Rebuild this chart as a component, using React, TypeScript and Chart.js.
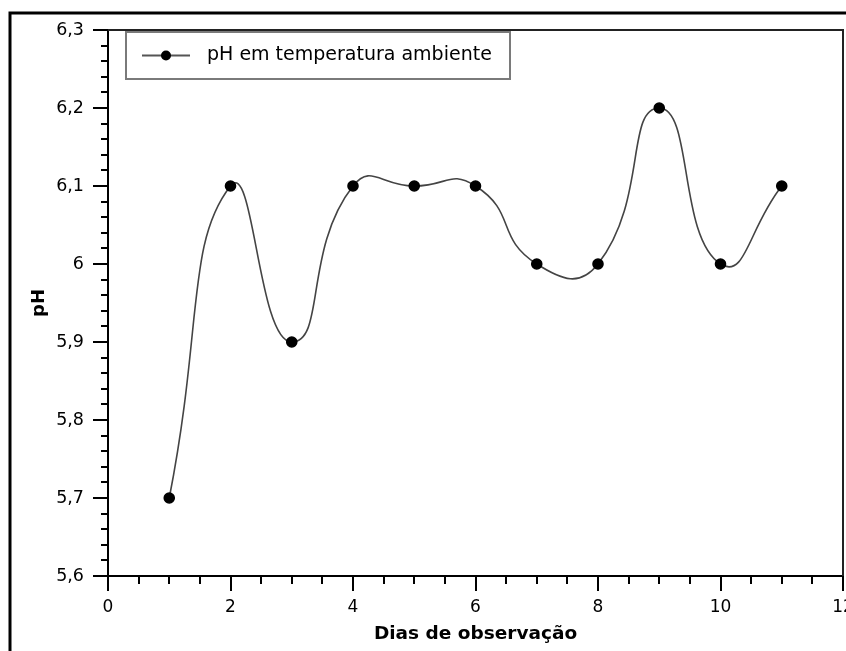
import React, { useEffect, useRef } from "react";
import { Chart, registerables } from "chart.js";

Chart.register(...registerables);

const days = [1, 2, 3, 4, 5, 6, 7, 8, 9, 10, 11];
const phValues = [5.7, 6.1, 5.9, 6.1, 6.1, 6.1, 6.0, 6.0, 6.2, 6.0, 6.1];
const seriesLabel = "pH em temperatura ambiente";
const xTitle = "Dias de observação";
const yTitle = "pH";
const xRange = [0, 12];
const yRange = [5.6, 6.3];

const FONT = "'DejaVu Sans', Verdana, sans-serif";

const fmtY = (v: number) => {
  const r = Math.round(v * 10) / 10;
  return String(r).replace(".", ",");
};

const decorPlugin = {
  id: "decor",
  beforeDraw(chart: any) {
    const ctx = chart.ctx;
    ctx.save();
    ctx.fillStyle = "#ffffff";
    ctx.fillRect(0, 0, chart.width, chart.height);
    ctx.strokeStyle = "#000";
    ctx.lineWidth = 3;
    ctx.beginPath();
    ctx.moveTo(10, chart.height + 5);
    ctx.lineTo(10, 13);
    ctx.lineTo(chart.width + 5, 13);
    ctx.stroke();
    ctx.restore();
  },
  afterDraw(chart: any) {
    const ctx = chart.ctx;
    const area = chart.chartArea;
    const xs = chart.scales.x;
    const ys = chart.scales.y;
    ctx.save();
    ctx.strokeStyle = "#222";
    ctx.lineWidth = 2;
    ctx.beginPath();
    ctx.moveTo(area.left, area.top);
    ctx.lineTo(area.right, area.top);
    ctx.lineTo(area.right, area.bottom);
    ctx.stroke();
    ctx.strokeStyle = "#000";
    ctx.lineWidth = 2;
    ctx.beginPath();
    for (let i = 0; i <= 35; i++) {
      if (i % 5 === 0) continue;
      const v = yRange[0] + i * 0.02;
      const py = Math.round(ys.getPixelForValue(v));
      ctx.moveTo(area.left, py);
      ctx.lineTo(area.left - 7, py);
    }
    for (let i = 0; i <= 24; i++) {
      if (i % 4 === 0) continue;
      const v = xRange[0] + i * 0.5;
      const px = Math.round(xs.getPixelForValue(v));
      ctx.moveTo(px, area.bottom);
      ctx.lineTo(px, area.bottom + 8);
    }
    ctx.stroke();
    const bx = 126, by = 32, bw = 384, bh = 47;
    ctx.fillStyle = "#fff";
    ctx.fillRect(bx, by, bw, bh);
    ctx.strokeStyle = "#7a7a7a";
    ctx.lineWidth = 2;
    ctx.strokeRect(bx, by, bw, bh);
    const ly = by + bh / 2;
    ctx.strokeStyle = "#555";
    ctx.lineWidth = 2;
    ctx.beginPath();
    ctx.moveTo(142, ly);
    ctx.lineTo(190, ly);
    ctx.stroke();
    ctx.fillStyle = "#000";
    ctx.beginPath();
    ctx.arc(166, ly, 5, 0, Math.PI * 2);
    ctx.fill();
    ctx.font = `19px ${FONT}`;
    ctx.textBaseline = "middle";
    ctx.textAlign = "left";
    ctx.fillStyle = "#000";
    ctx.fillText(seriesLabel, 207, ly);
    ctx.restore();
  },
};

export default function App() {
  const ref = useRef<HTMLCanvasElement>(null);
  useEffect(() => {
    document.body.style.margin = "0";
    const chart = new Chart(ref.current!, {
      type: "line",
      data: {
        labels: days,
        datasets: [
          {
            label: seriesLabel,
            data: days.map((d, i) => ({ x: d, y: phValues[i] })),
            borderColor: "#444",
            borderWidth: 1.6,
            backgroundColor: "#000",
            pointBackgroundColor: "#000",
            pointBorderColor: "#000",
            pointRadius: 5,
            tension: 0.55,
            fill: false,
          },
        ],
      },
      options: {
        animation: false,
        responsive: false,
        layout: { autoPadding: false, padding: { left: 0, top: 30, right: 3, bottom: 0 } },
        plugins: { legend: { display: false }, tooltip: { enabled: false } },
        scales: {
          x: {
            type: "linear",
            min: xRange[0],
            max: xRange[1],
            afterFit(scale: any) {
              scale.height = 75;
              scale.paddingLeft = 0;
              scale.paddingRight = 0;
            },
            ticks: {
              stepSize: 2,
              color: "#000",
              font: { family: FONT, size: 17 },
              padding: 6,
              maxRotation: 0,
            },
            grid: {
              drawOnChartArea: false,
              drawTicks: true,
              tickLength: 15,
              tickColor: "#000",
              lineWidth: 2,
            },
            border: { display: true, color: "#000", width: 2 },
            title: {
              display: true,
              text: xTitle,
              color: "#000",
              font: { family: FONT, size: 18.5, weight: "bold" },
              padding: { top: 0, bottom: 6 },
            },
          },
          y: {
            type: "linear",
            min: yRange[0],
            max: yRange[1],
            afterFit(scale: any) {
              scale.width = 108;
              scale.paddingTop = 0;
              scale.paddingBottom = 0;
            },
            ticks: {
              stepSize: 0.1,
              color: "#000",
              font: { family: FONT, size: 17.5 },
              padding: 9,
              callback: (v: any) => fmtY(Number(v)),
            },
            grid: {
              drawOnChartArea: false,
              drawTicks: true,
              tickLength: 15,
              tickColor: "#000",
              lineWidth: 2,
            },
            border: { display: true, color: "#000", width: 2 },
            title: {
              display: true,
              text: yTitle,
              color: "#000",
              font: { family: FONT, size: 18, weight: "bold" },
              padding: { top: 29, bottom: 0 },
            },
          },
        },
      },
      plugins: [decorPlugin],
    });
    return () => chart.destroy();
  }, []);
  return (
    <canvas ref={ref} width={846} height={651} style={{ display: "block" }} />
  );
}
